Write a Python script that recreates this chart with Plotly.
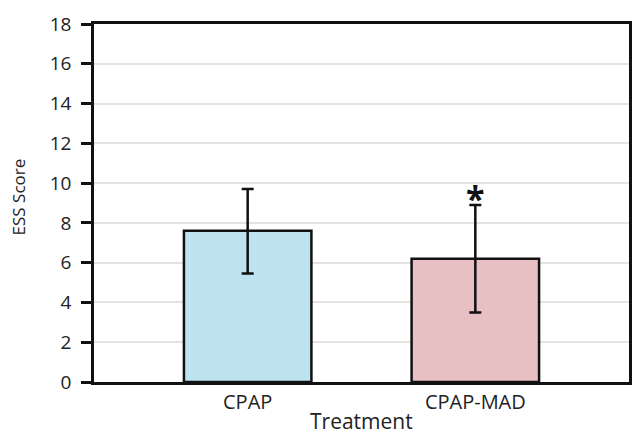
import plotly.graph_objects as go

categories = ["CPAP", "CPAP-MAD"]
means = [7.6, 6.2]
err_plus = [2.1, 2.7]
err_minus = [2.15, 2.7]
significance = ["", "*"]
bar_colors = ["#bde3f1", "#e8bfc3"]

y_ticks = list(range(0, 19, 2))
x_title = "Treatment"
y_title = "ESS Score"

FONT = "Open Sans"
TXT = "#222222"

fig = go.Figure()
fig.add_trace(go.Bar(
    x=categories,
    y=means,
    width=0.56,
    marker=dict(color=bar_colors, line=dict(color="#111111", width=2.5)),
    error_y=dict(type="data", array=err_plus, arrayminus=err_minus,
                 color="#111111", thickness=2.5, width=6),
))

for cat, m, ep, sig in zip(categories, means, err_plus, significance):
    if sig:
        fig.add_annotation(x=cat, y=m + ep, text="<b>" + sig + "</b>",
                           showarrow=False, yanchor="middle", yshift=7,
                           font=dict(size=34, color="#111111", family=FONT))

# axis titles placed as annotations for exact positioning
fig.add_annotation(text=x_title, xref="paper", yref="paper", x=0.5, y=0,
                   xanchor="center", yanchor="top", yshift=-23, showarrow=False,
                   font=dict(size=21, color=TXT, family=FONT))
fig.add_annotation(text=y_title, xref="paper", yref="paper", x=0, y=0.517,
                   xanchor="right", yanchor="middle", xshift=-62, textangle=-90,
                   showarrow=False, font=dict(size=17, color=TXT, family=FONT))

fig.update_layout(
    width=634, height=435,
    margin=dict(l=94, r=2, t=24, b=53),
    paper_bgcolor="white", plot_bgcolor="white",
    showlegend=False,
    font=dict(family=FONT, color=TXT),
)
fig.update_xaxes(
    range=[-0.675, 1.675],
    showline=True, linecolor="#111111", linewidth=2.5, mirror=True,
    ticks="", showgrid=False,
    tickfont=dict(size=20, color=TXT, family=FONT),
)
fig.update_yaxes(
    range=[0, 18], tickvals=y_ticks,
    showline=True, linecolor="#111111", linewidth=2.5, mirror=True,
    ticks="outside", ticklen=10, tickwidth=2.5, tickcolor="#111111",
    ticklabelstandoff=6,
    showgrid=True, gridcolor="#e6e2df", gridwidth=1.5,
    zeroline=False,
    tickfont=dict(size=19, color=TXT, family=FONT),
)

fig.write_html(
    "out.html",
    config={"displayModeBar": False},
    post_script="document.body.style.margin='0';document.body.style.overflow='hidden';",
)
